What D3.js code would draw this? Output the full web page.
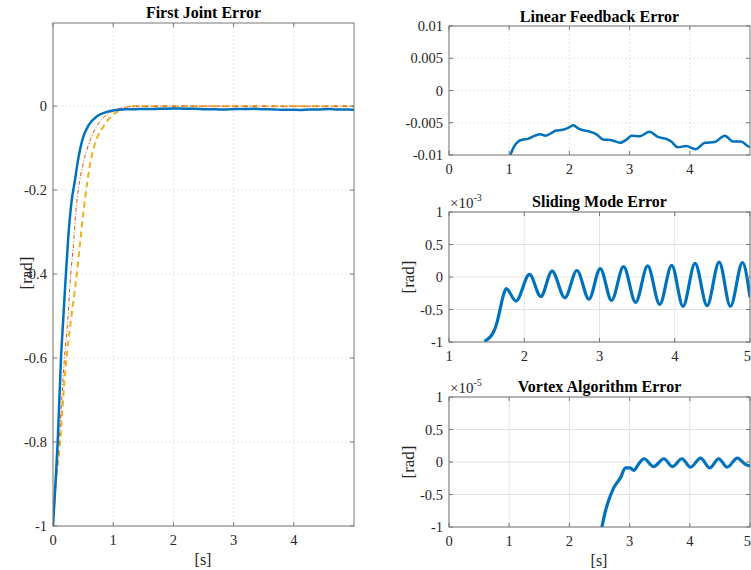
<!DOCTYPE html>
<html>
<head>
<meta charset="utf-8">
<script src="https://cdn.jsdelivr.net/npm/d3@7"></script>
<style>
  body { margin: 0; background: #fff; }
  text { font-family: "Liberation Serif", "Times New Roman", serif; fill: #262626; }
</style>
</head>
<body>
<div id="chart"></div>
<script>
// ---- data ----
// left panel, blue (linear feedback) transient part
const lfTransT = [0, 0.04, 0.078, 0.133, 0.17, 0.21, 0.255, 0.31, 0.355, 0.42, 0.505, 0.59, 0.73, 0.87];
const lfTransV = [-1, -0.9, -0.8, -0.6, -0.508, -0.41, -0.31, -0.225, -0.185, -0.125, -0.072, -0.046, -0.024, -0.015];
// linear feedback steady part (also top-right panel)
const lfTime = [1.02, 1.08, 1.15, 1.23, 1.31, 1.43, 1.51, 1.61, 1.70, 1.78, 1.89, 1.98, 2.06, 2.17, 2.31, 2.45,
  2.56, 2.70, 2.84, 2.95, 3.03, 3.17, 3.33, 3.47, 3.61, 3.69, 3.80, 3.94, 4.10, 4.25, 4.41, 4.58, 4.72, 4.85, 4.96, 5.0];
const lfErr = [-0.01, -0.0087, -0.0079, -0.0076, -0.0075, -0.0070, -0.0068, -0.0070, -0.0066, -0.0062, -0.0061, -0.0058, -0.0054, -0.0060, -0.0063, -0.0068,
  -0.0076, -0.0077, -0.0081, -0.0076, -0.0070, -0.0071, -0.0064, -0.0072, -0.0075, -0.0079, -0.0088, -0.0086, -0.0091, -0.0081, -0.0080, -0.0070, -0.0079, -0.0079, -0.0086, -0.0088];
// sliding mode (red dash-dot on left, x1e-3 panel)
const smJointT = [0, 0.10, 0.19, 0.245, 0.295, 0.34, 0.38, 0.42, 0.505, 0.62, 0.76, 0.92, 1.14, 1.4, 5];
const smJointV = [-1, -0.8, -0.6, -0.51, -0.4, -0.33, -0.25, -0.2, -0.135, -0.08, -0.04, -0.018, -0.004, 0, 0];
const smTime = [1.47, 1.59, 1.645, 1.68, 1.716, 1.76, 1.89, 2.07, 2.22, 2.37, 2.54, 2.70, 2.86, 3.01, 3.16, 3.32, 3.48,
  3.64, 3.80, 3.96, 4.11, 4.27, 4.43, 4.59, 4.74, 4.90, 5.0];
const smErr = [-0.99, -0.85, -0.67, -0.49, -0.31, -0.18, -0.37, 0.04, -0.30, 0.09, -0.32, 0.10, -0.34, 0.13, -0.36, 0.16, -0.39,
  0.17, -0.42, 0.18, -0.45, 0.21, -0.44, 0.23, -0.45, 0.22, -0.31];
// vortex algorithm (yellow dashed on left, x1e-5 panel)
const vxJointT = [0, 0.02, 0.117, 0.21, 0.30, 0.395, 0.45, 0.53, 0.62, 0.70, 0.84, 1.0, 1.17, 1.34, 5];
const vxJointV = [-1, -0.95, -0.8, -0.62, -0.508, -0.4, -0.325, -0.223, -0.135, -0.088, -0.048, -0.02, -0.007, 0, 0];
const vxTime = [2.54, 2.60, 2.68, 2.74, 2.85, 2.93, 3.01, 3.07, 3.15, 3.24, 3.40, 3.57, 3.71, 3.87, 4.01, 4.18, 4.33,
  4.48, 4.62, 4.79, 4.93, 5.0];
const vxErr = [-1.0, -0.75, -0.52, -0.39, -0.24, -0.09, -0.09, -0.13, -0.03, 0.05, -0.07, 0.05, -0.07, 0.05, -0.08, 0.06, -0.09,
  0.05, -0.08, 0.06, -0.04, -0.06];

const jointYTicks = [-1, -0.8, -0.6, -0.4, -0.2, 0];
const lfYTicks = [-0.01, -0.005, 0, 0.005, 0.01];
const scaledYTicks = [-1, -0.5, 0, 0.5, 1];

const blue = "#0072BD", red = "#D95319", yellow = "#EDB120";

const svg = d3.select("#chart").append("svg")
  .attr("width", 751).attr("height", 570)
  .style("background", "#fff");

let clipId = 0;

// one MATLAB-style axes box
function panel(box, xDom, yDom, xTicks, yTicks, fmt, gridDash) {
  const x = d3.scaleLinear().domain(xDom).range([box.x0, box.x1]);
  const y = d3.scaleLinear().domain(yDom).range([box.y1, box.y0]);
  const g = svg.append("g");

  // grid
  g.selectAll(".gx").data(xTicks).enter().append("line")
    .attr("x1", d => x(d)).attr("x2", d => x(d))
    .attr("y1", box.y0).attr("y2", box.y1)
    .style("stroke", "#dcdcdc").style("stroke-width", 0.8)
    .style("stroke-dasharray", gridDash);
  g.selectAll(".gy").data(yTicks).enter().append("line")
    .attr("x1", box.x0).attr("x2", box.x1)
    .attr("y1", d => y(d)).attr("y2", d => y(d))
    .style("stroke", "#dcdcdc").style("stroke-width", 0.8)
    .style("stroke-dasharray", gridDash);

  const id = "clip" + (clipId++);
  svg.append("clipPath").attr("id", id).append("rect")
    .attr("x", box.x0).attr("y", box.y0)
    .attr("width", box.x1 - box.x0).attr("height", box.y1 - box.y0);
  const plot = svg.append("g").attr("clip-path", `url(#${id})`);

  const frame = svg.append("g");
  frame.append("rect")
    .attr("x", box.x0).attr("y", box.y0)
    .attr("width", box.x1 - box.x0).attr("height", box.y1 - box.y0)
    .style("fill", "none").style("stroke", "#777").style("stroke-width", 1);

  // ticks, inward on all four sides
  xTicks.forEach(t => {
    frame.append("line").attr("x1", x(t)).attr("x2", x(t)).attr("y1", box.y1).attr("y2", box.y1 - 4)
      .style("stroke", "#777");
    frame.append("line").attr("x1", x(t)).attr("x2", x(t)).attr("y1", box.y0).attr("y2", box.y0 + 4)
      .style("stroke", "#777");
  });
  yTicks.forEach(t => {
    frame.append("line").attr("x1", box.x0).attr("x2", box.x0 + 4).attr("y1", y(t)).attr("y2", y(t))
      .style("stroke", "#777");
    frame.append("line").attr("x1", box.x1).attr("x2", box.x1 - 4).attr("y1", y(t)).attr("y2", y(t))
      .style("stroke", "#777");
  });

  // the last label on the right edge of the page would spill over, so pin it inside
  frame.selectAll(".xl").data(xTicks).enter().append("text")
    .attr("x", d => x(d) > 745 ? 751 : x(d)).attr("y", box.y1 + 19)
    .attr("text-anchor", d => x(d) > 745 ? "end" : "middle")
    .style("font-size", "14.5px")
    .text(d => fmt(d));
  frame.selectAll(".yl").data(yTicks).enter().append("text")
    .attr("x", box.x0 - 6).attr("y", d => y(d) + 5)
    .attr("text-anchor", "end").style("font-size", "14.5px")
    .text(d => fmt(d));

  return { x, y, plot, box, frame };
}

function fmtNum(d) {
  return d === 0 ? "0" : String(+d.toFixed(3));
}

function drawLine(p, xs, ys, color, width, dash) {
  const pts = xs.map((t, i) => [t, ys[i]]);
  const line = d3.line().x(d => p.x(d[0])).y(d => p.y(d[1])).curve(d3.curveMonotoneX);
  p.plot.append("path").datum(pts)
    .attr("d", line)
    .style("fill", "none").style("stroke", color)
    .style("stroke-width", width)
    .style("stroke-dasharray", dash || null)
    .style("stroke-linejoin", "round");
}

function title(p, txt, yPos) {
  svg.append("text")
    .attr("x", (p.box.x0 + p.box.x1) / 2).attr("y", yPos)
    .attr("text-anchor", "middle")
    .style("font-size", "16px").style("font-weight", "bold")
    .style("fill", "#000")
    .text(txt);
}

function yLabel(xPos, yPos) {
  svg.append("text")
    .attr("transform", `translate(${xPos},${yPos}) rotate(-90)`)
    .attr("text-anchor", "middle").style("font-size", "17px")
    .text("[rad]");
}

function xLabel(xPos, yPos) {
  svg.append("text")
    .attr("x", xPos).attr("y", yPos)
    .attr("text-anchor", "middle").style("font-size", "16px")
    .text("[s]");
}

function exponent(p, pow) {
  const t = svg.append("text")
    .attr("x", p.box.x0 + 1).attr("y", p.box.y0 - 4)
    .style("font-size", "15px")
    .text("\u00d710");
  t.append("tspan").attr("dy", -7).style("font-size", "10px").text(pow);
}

// ---- left: First Joint Error ----
const pJ = panel({ x0: 53, x1: 354, y0: 23, y1: 526 }, [0, 5], [-1, 0.198],
  [0, 1, 2, 3, 4], jointYTicks, fmtNum, "2,2");
drawLine(pJ, vxJointT, vxJointV, yellow, 2, "6,4");
drawLine(pJ, smJointT, smJointV, red, 1, "4,2,1,2");
drawLine(pJ, lfTransT.concat(lfTime), lfTransV.concat(lfErr), blue, 2.5);
title(pJ, "First Joint Error", 18);
yLabel(32, 273);
xLabel(203, 565);

// ---- right top: Linear Feedback Error ----
const pL = panel({ x0: 449, x1: 750, y0: 26, y1: 155 }, [0, 5], [-0.01, 0.01],
  [0, 1, 2, 3, 4], lfYTicks, fmtNum, "2,2");
drawLine(pL, lfTransT.concat(lfTime), lfTransV.concat(lfErr), blue, 2.5);
title(pL, "Linear Feedback Error", 22);

// ---- right middle: Sliding Mode Error ----
const pS = panel({ x0: 449, x1: 750, y0: 212, y1: 342 }, [1, 5], [-1, 1],
  [1, 2, 3, 4, 5], scaledYTicks, fmtNum, null);
drawLine(pS, smTime, smErr, blue, 3.2);
title(pS, "Sliding Mode Error", 207);
exponent(pS, "-3");
yLabel(414, 277);

// ---- right bottom: Vortex Algorithm Error ----
const pV = panel({ x0: 449, x1: 750, y0: 397, y1: 527 }, [0, 5], [-1, 1],
  [0, 1, 2, 3, 4, 5], scaledYTicks, fmtNum, null);
drawLine(pV, vxTime, vxErr, blue, 3.2);
title(pV, "Vortex Algorithm Error", 392);
exponent(pV, "-5");
yLabel(414, 462);
xLabel(599, 566);
</script>
</body>
</html>
